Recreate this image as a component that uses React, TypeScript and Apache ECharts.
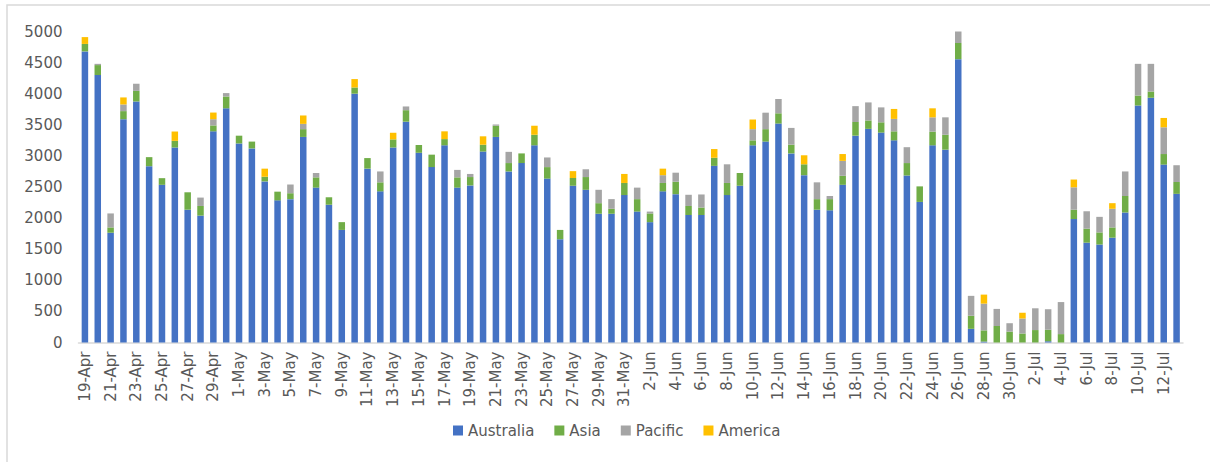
import React, { useEffect, useRef } from "react";
import * as echarts from "echarts";

const categories = [
  "19-Apr","20-Apr","21-Apr","22-Apr","23-Apr","24-Apr","25-Apr","26-Apr","27-Apr","28-Apr","29-Apr","30-Apr",
  "1-May","2-May","3-May","4-May","5-May","6-May","7-May","8-May","9-May","10-May","11-May","12-May","13-May","14-May","15-May","16-May","17-May","18-May","19-May","20-May","21-May","22-May","23-May","24-May","25-May","26-May","27-May","28-May","29-May","30-May","31-May",
  "1-Jun","2-Jun","3-Jun","4-Jun","5-Jun","6-Jun","7-Jun","8-Jun","9-Jun","10-Jun","11-Jun","12-Jun","13-Jun","14-Jun","15-Jun","16-Jun","17-Jun","18-Jun","19-Jun","20-Jun","21-Jun","22-Jun","23-Jun","24-Jun","25-Jun","26-Jun","27-Jun","28-Jun","29-Jun","30-Jun",
  "1-Jul","2-Jul","3-Jul","4-Jul","5-Jul","6-Jul","7-Jul","8-Jul","9-Jul","10-Jul","11-Jul","12-Jul","13-Jul"
];

const australia = [
  4680,4300,1765,3590,3875,2835,2535,3135,2135,2040,3395,3765,
  3200,3120,2590,2285,2305,3305,2490,2215,1810,4000,2795,2430,3135,3550,3050,2820,3170,2490,2525,3070,3305,2750,2885,3170,2635,1660,2520,2455,2070,2070,2370,
  2105,1935,2430,2385,2050,2050,2840,2370,2520,3170,3230,3520,3040,2690,2135,2125,2535,3325,3435,3375,3250,2685,2260,3170,3100,4555,220,15,0,0,
  0,0,20,0,1985,1605,1575,1685,2090,3810,3935,2860,2390
];

const asia = [
  120,160,85,130,170,145,107,107,280,155,95,190,
  125,110,75,140,95,125,165,120,125,100,170,145,130,185,125,200,100,165,135,110,180,135,155,170,185,150,125,205,170,80,195,
  200,140,135,200,145,120,130,195,205,80,200,165,140,175,170,180,145,220,135,165,145,200,250,220,240,260,210,180,265,175,
  145,200,185,135,150,225,195,165,265,160,100,170,190
];

const pacific = [
  0,20,225,107,115,0,0,0,0,135,100,55,
  0,0,0,0,140,85,70,0,0,0,0,175,0,60,0,0,0,120,50,0,20,180,0,0,155,0,0,125,215,155,0,
  185,30,125,145,180,210,0,300,0,180,265,230,270,0,270,50,240,255,290,240,200,255,0,230,280,215,320,430,275,135,
  240,350,330,515,360,280,250,300,395,510,445,430,270
];

const america = [
  110,0,0,113,0,0,0,150,0,0,107,0,
  0,0,130,0,0,135,0,0,0,135,0,0,107,0,0,0,125,0,0,135,0,0,0,145,0,0,110,0,0,0,145,
  0,0,105,0,0,0,140,0,0,155,0,0,0,145,0,0,110,0,0,0,160,0,0,145,0,0,0,145,0,0,
  95,0,0,0,125,0,0,90,0,0,0,150,0
];

const seriesNames = ["Australia", "Asia", "Pacific", "America"];
const seriesColors = ["#4472C4", "#70AD47", "#A5A5A5", "#FFC000"];
const yTicks = { min: 0, max: 5000, interval: 500 };

const FONT = "DejaVu Sans";

export default function App() {
  const ref = useRef<HTMLDivElement>(null);
  useEffect(() => {
    if (!ref.current) return;
    const chart = echarts.init(ref.current, null, { renderer: "svg" });
    const data = [australia, asia, pacific, america];
    chart.setOption({
      animation: false,
      backgroundColor: "#ffffff",
      graphic: [
        {
          type: "rect",
          shape: { x: 7, y: 5, width: 1240, height: 500 },
          style: { fill: "none", stroke: "#d9d9d9", lineWidth: 1.5 },
          silent: true,
        },
      ],
      grid: { left: 78.5, right: 27, top: 31.5, bottom: 119.5, containLabel: false },
      legend: {
        data: seriesNames,
        top: 418,
        left: 448,
        itemWidth: 10,
        itemHeight: 10,
        itemGap: 20,
        icon: "rect",
        textStyle: { fontFamily: FONT, fontSize: 15, color: "#595959" },
      },
      xAxis: {
        type: "category",
        data: categories,
        axisLine: { show: true, lineStyle: { color: "#d9d9d9", width: 1.5 } },
        axisTick: { show: false },
        axisLabel: {
          interval: 1,
          rotate: 90,
          fontFamily: FONT,
          fontSize: 15,
          color: "#595959",
          margin: 9,
        },
      },
      yAxis: {
        type: "value",
        min: yTicks.min,
        max: yTicks.max,
        interval: yTicks.interval,
        splitLine: { show: false },
        axisLine: { show: false },
        axisTick: { show: false },
        axisLabel: {
          fontFamily: FONT,
          fontSize: 15,
          color: "#595959",
          margin: 16,
          formatter: (v: number) => String(v),
        },
      },
      series: seriesNames.map((name, i) => ({
        name,
        type: "bar",
        stack: "total",
        barWidth: 6.5,
        data: data[i],
        itemStyle: { color: seriesColors[i] },
      })),
    });
    return () => chart.dispose();
  }, []);
  return (
    <div
      ref={ref}
      style={{ position: "absolute", left: 0, top: 0, width: 1210, height: 462 }}
    />
  );
}
